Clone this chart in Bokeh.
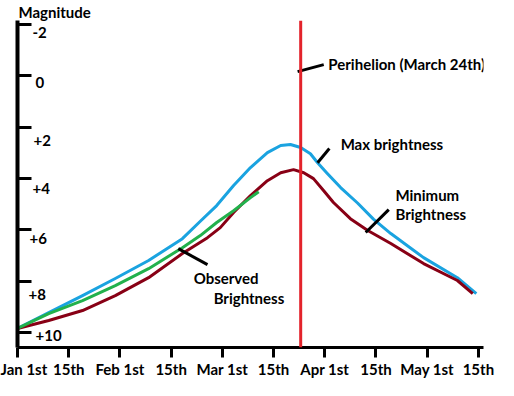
from bokeh.plotting import figure
from bokeh.models import Range1d, FixedTicker, Span
from bokeh.core.properties import value
from bokeh.embed import file_html
from bokeh.resources import INLINE

# ---- data (x in tick units: 0 = Jan 1st ... 9 = May 15th) ----
x_tick_labels = ["Jan 1st", "15th", "Feb 1st", "15th", "Mar 1st", "15th",
                 "Apr 1st", "15th", "May 1st", "15th"]
y_ticks = [-2, 0, 2, 4, 6, 8, 10]
y_tick_labels = ["-2", "0", "+2", "+4", "+6", "+8", "+10"]

max_x = [0.0, 0.61, 1.27, 1.91, 2.56, 3.22, 3.57, 3.89, 4.22, 4.55, 4.88,
         5.14, 5.33, 5.53, 5.72, 5.86, 6.05, 6.31, 6.64, 6.95, 7.29, 7.93,
         8.59, 8.96]
max_mag = [9.84, 9.22, 8.56, 7.89, 7.19, 6.34, 5.66, 5.05, 4.27, 3.57, 2.99,
           2.71, 2.67, 2.79, 3.03, 3.38, 3.80, 4.35, 4.95, 5.58, 6.14, 7.08,
           7.86, 8.48]

min_x = [0.0, 0.61, 1.27, 1.91, 2.56, 3.22, 3.71, 3.96, 4.22, 4.55, 4.88,
         5.14, 5.39, 5.59, 5.78, 5.98, 6.17, 6.50, 6.84, 7.29, 7.93, 8.59, 8.89]
min_mag = [9.84, 9.53, 9.14, 8.56, 7.86, 6.92, 6.30, 5.91, 5.32, 4.66, 4.08,
           3.77, 3.65, 3.77, 4.00, 4.47, 4.93, 5.56, 6.02, 6.53, 7.31, 7.97, 8.48]

obs_x = [0.0, 0.61, 1.27, 1.91, 2.56, 3.22, 3.57, 3.89, 4.22, 4.55, 4.71]
obs_mag = [9.84, 9.26, 8.75, 8.17, 7.51, 6.69, 6.22, 5.71, 5.25, 4.74, 4.51]

perihelion_x = 5.53  # March 24th

# annotation texts
note_text = ["Perihelion (March 24th)", "Max brightness", "Minimum", "Brightness",
             "Observed", "Brightness"]
note_x = [6.07, 6.31, 7.38, 7.38, 3.44, 3.83]
note_y = [-0.48, 2.67, 4.62, 5.36, 7.89, 8.64]
lead_x0 = [5.47, 5.86, 6.80, 3.14]
lead_y0 = [-0.17, 3.38, 6.10, 6.73]
lead_x1 = [5.98, 6.09, 7.25, 3.71]
lead_y1 = [-0.44, 2.83, 5.21, 7.35]

FONT = "Lato"
FSIZE = "15px"

# hand-placed offsets of the y tick labels (pixels)
ylab_dx = [15, 18, 16, 15, 12, 11, 18]
ylab_dy = [8, 7, 13, 10, 9, 13, 3]

p = figure(width=506, height=388, output_backend="svg", toolbar_location=None,
           title="Magnitude",
           x_range=Range1d(0, 9.1), y_range=Range1d(10.58, -2.16),
           min_border_left=17, min_border_right=23, min_border_top=16,
           min_border_bottom=41)
p.title.text_font = FONT
p.title.text_font_style = "bold"
p.title.text_font_size = FSIZE
p.title.text_color = "black"
p.title.align = "left"
p.title.offset = 1
p.title.standoff = 0
p.outline_line_color = None
p.grid.visible = False
p.background_fill_color = "white"
p.border_fill_color = "white"

# x axis
xa = p.xaxis[0]
xa.ticker = FixedTicker(ticks=list(range(len(x_tick_labels))))
xa.major_label_overrides = {i: lab for i, lab in enumerate(x_tick_labels)}
xa.minor_tick_line_color = None
xa.axis_line_width = 3
xa.axis_line_color = "black"
xa.major_tick_line_width = 3
xa.major_tick_line_color = "black"
xa.major_tick_in = 0
xa.major_tick_out = 10
xa.major_label_standoff = 2
xa.major_label_text_font = FONT
xa.major_label_text_font_style = "bold"
xa.major_label_text_font_size = FSIZE
xa.major_label_text_color = "black"

# y axis (ticks inward, labels drawn inside)
ya = p.yaxis[0]
ya.ticker = FixedTicker(ticks=y_ticks)
ya.major_label_overrides = {t: "" for t in y_ticks}
ya.major_label_standoff = 0
ya.major_label_text_font_size = "1px"
ya.minor_tick_line_color = None
ya.axis_line_width = 4
ya.axis_line_color = "black"
ya.major_tick_line_width = 3
ya.major_tick_line_color = "black"
ya.major_tick_in = 14
ya.major_tick_out = 0

p.text(x=[0] * len(y_ticks), y=y_ticks, text=y_tick_labels,
       x_offset=ylab_dx, y_offset=ylab_dy,
       text_align="left", text_baseline="middle", text_font=value(FONT),
       text_font_style="bold", text_font_size=FSIZE, text_color="black")

# curves
p.line(max_x, max_mag, line_color="#1aa3e0", line_width=3, line_join="round")
p.line(min_x, min_mag, line_color="#880015", line_width=3, line_join="round")
p.line(obs_x, obs_mag, line_color="#22b14c", line_width=3, line_join="round")

p.add_layout(Span(location=perihelion_x, dimension="height",
                  line_color="#e3232b", line_width=3))

# leaders and notes
p.segment(x0=lead_x0, y0=lead_y0, x1=lead_x1, y1=lead_y1,
          line_color="black", line_width=3)
p.text(x=note_x, y=note_y, text=note_text, text_align="left",
       text_baseline="middle", text_font=value(FONT), text_font_style="bold",
       text_font_size=FSIZE, text_color="black")

open("out.html", "w").write(file_html(p, INLINE))
